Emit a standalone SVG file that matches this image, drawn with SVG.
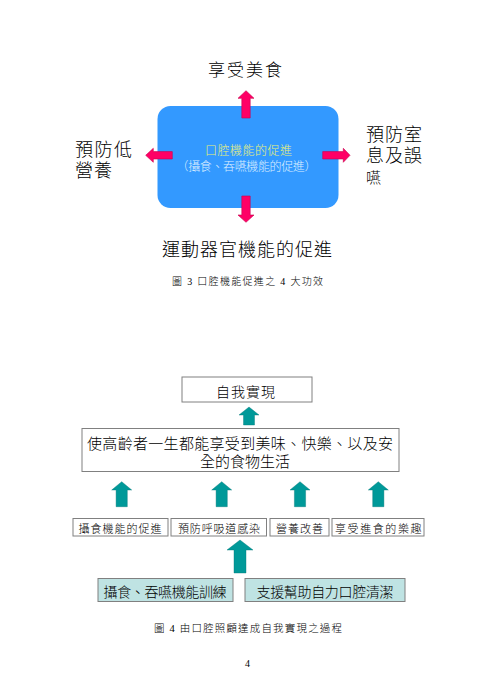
<svg xmlns="http://www.w3.org/2000/svg" width="495" height="700" viewBox="0 0 495 700">
<style>
.t{font-family:"Liberation Serif","Noto Sans CJK TC",serif;fill:#000;font-weight:300}
.red{fill:#ff0066;stroke:#c8004c;stroke-width:0.6}
.teal{fill:#009999;stroke:#007777;stroke-width:0.4}
.box{fill:#fff;stroke:#808080;stroke-width:1}
.lbox{fill:#bfe3e3;stroke:#808080;stroke-width:1}
</style>
<rect width="495" height="700" fill="#fff"/>
<g id="fig3">
  <g id="core">
    <rect x="157.5" y="106" width="181" height="102" rx="13" ry="13" fill="#3399ff"/>
    <text class="t" x="205" y="155" font-size="12" textLength="87" lengthAdjust="spacing" style="fill:#e8f07a">口腔機能的促進</text>
    <text class="t" x="176.5" y="171" font-size="12" textLength="140" lengthAdjust="spacing" style="fill:#dbeeff">（攝食、吞嚥機能的促進）</text>
  </g>
  <g id="top-label"><text class="t" x="208" y="76" font-size="17" textLength="74" lengthAdjust="spacing">享受美食</text></g>
  <g id="bottom-label"><text class="t" x="162" y="256" font-size="18" textLength="170" lengthAdjust="spacing">運動器官機能的促進</text></g>
  <g id="left-label">
    <text class="t" x="75" y="156" font-size="18" textLength="57" lengthAdjust="spacing">預防低</text>
    <text class="t" x="75" y="177" font-size="18" textLength="37" lengthAdjust="spacing">營養</text>
  </g>
  <g id="right-label">
    <text class="t" x="366" y="141" font-size="18" textLength="56" lengthAdjust="spacing">預防室</text>
    <text class="t" x="366" y="162" font-size="18" textLength="56" lengthAdjust="spacing">息及誤</text>
    <text class="t" x="366" y="183" font-size="15">嚥</text>
  </g>
  <g id="caption3"><text class="t" x="172" y="285" font-size="10" textLength="151" lengthAdjust="spacing">圖 3 口腔機能促進之 4 大功效</text></g>
</g>
<g id="fig4">
  <g id="n-self"><rect class="box" x="182" y="377" width="130" height="25"/><text class="t" x="216" y="397" font-size="14" textLength="59" lengthAdjust="spacing">自我實現</text></g>
  <g id="n-life">
    <rect class="box" x="82" y="428.5" width="317" height="43"/>
    <text class="t" x="87" y="449" font-size="15" textLength="306" lengthAdjust="spacing">使高齡者一生都能享受到美味、快樂、以及安</text>
    <text class="t" x="200" y="467" font-size="15" textLength="90" lengthAdjust="spacing">全的食物生活</text>
  </g>
  <g id="n-b1"><rect class="box" x="73" y="518.5" width="95" height="17.5"/><text class="t" x="78.5" y="533" font-size="11" textLength="83" lengthAdjust="spacing">攝食機能的促進</text></g>
  <g id="n-b2"><rect class="box" x="171" y="518.5" width="95.5" height="17.5"/><text class="t" x="178" y="533" font-size="11" textLength="82" lengthAdjust="spacing">預防呼吸道感染</text></g>
  <g id="n-b3"><rect class="box" x="270" y="518.5" width="59" height="17.5"/><text class="t" x="276" y="533" font-size="11" textLength="47" lengthAdjust="spacing">營養改善</text></g>
  <g id="n-b4"><rect class="box" x="332" y="518.5" width="92" height="17.5"/><text class="t" x="335" y="533" font-size="11" textLength="86.5" lengthAdjust="spacing">享受進食的樂趣</text></g>
  <g id="n-train"><rect class="lbox" x="98" y="578.5" width="135" height="23"/><text class="t" x="103.5" y="597" font-size="14" textLength="123" lengthAdjust="spacing">攝食、吞嚥機能訓練</text></g>
  <g id="n-clean"><rect class="lbox" x="245" y="578.5" width="160" height="23"/><text class="t" x="256.5" y="597" font-size="14" textLength="137" lengthAdjust="spacing">支援幫助自力口腔清潔</text></g>
  <g id="caption4"><text class="t" x="154" y="632" font-size="10.5" textLength="188" lengthAdjust="spacing">圖 4 由口腔照顧達成自我實現之過程</text></g>
  <g id="page"><text class="t" x="247.5" y="667" font-size="10" text-anchor="middle">4</text></g>
</g>
<g id="connectors">
  <polygon class="red" points="246,90.7 254,98.3 250.2,98.3 250.2,118 241.8,118 241.8,98.3 238,98.3"/>
  <polygon class="red" points="246,222.3 254,215 250.2,215 250.2,196 241.8,196 241.8,215 238,215"/>
  <polygon class="red" points="145.7,155.3 153.3,148.3 153.3,151.6 172.3,151.6 172.3,159 153.3,159 153.3,162.3"/>
  <polygon class="red" points="350,155.3 343.3,148.3 343.3,151.6 322.7,151.6 322.7,159 343.3,159 343.3,162.3"/>
  <polygon class="teal" points="249,407 259,415 254.5,415 254.5,425 243.5,425 243.5,415 239,415"/>
  <polygon class="teal" points="121.7,481.7 131.7,490 127.3,490 127.3,506.7 116.1,506.7 116.1,490 111.7,490"/>
  <polygon class="teal" points="221.7,481.7 231.7,490 227.3,490 227.3,506.7 216.1,506.7 216.1,490 211.7,490"/>
  <polygon class="teal" points="300,481.7 310,490 305.6,490 305.6,506.7 294.4,506.7 294.4,490 290,490"/>
  <polygon class="teal" points="378.3,481.7 388.3,490 383.9,490 383.9,506.7 372.7,506.7 372.7,490 368.3,490"/>
  <polygon class="teal" points="240,540 253,550 246,550 246,573 234,573 234,550 227,550"/>
</g>
</svg>
